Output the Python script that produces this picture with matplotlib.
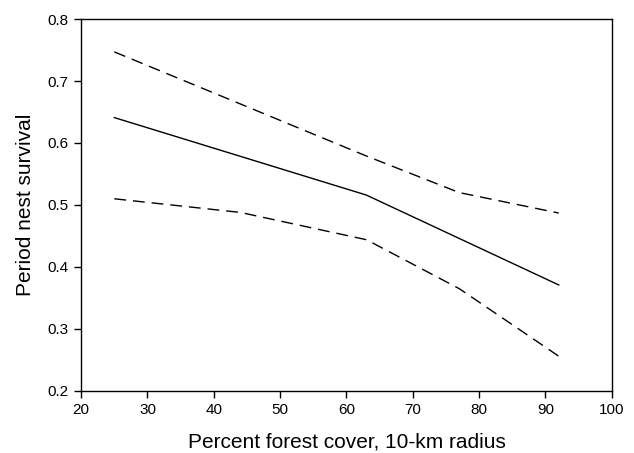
import matplotlib
matplotlib.use("Agg")
import matplotlib.pyplot as plt

plt.rcParams['font.family'] = ['Liberation Sans', 'DejaVu Sans']

# Data
mean_x = [25, 63, 92]
mean_y = [0.641, 0.516, 0.371]

upper_x = [25, 63, 77, 92]
upper_y = [0.747, 0.579, 0.520, 0.487]

lower_x = [25, 44, 63, 77, 92]
lower_y = [0.510, 0.488, 0.444, 0.365, 0.256]

xticks = [20, 30, 40, 50, 60, 70, 80, 90, 100]
yticks = [0.2, 0.3, 0.4, 0.5, 0.6, 0.7, 0.8]

fig = plt.figure(figsize=(6.34, 4.53), dpi=100)
ax = fig.add_axes([0.128, 0.137, 0.837, 0.821])

ax.plot(mean_x, mean_y, color='black', lw=1.0)
ax.plot(upper_x, upper_y, color='black', lw=1.0, dashes=(8.5, 5))
ax.plot(lower_x, lower_y, color='black', lw=1.0, dashes=(8.5, 5))

ax.set_xlim(20, 100)
ax.set_ylim(0.2, 0.8)
ax.set_xticks(xticks)
ax.set_yticks(yticks)
ax.set_yticklabels([f"{v:.1f}" for v in yticks])
ax.tick_params(direction='out', length=5, width=1, labelsize=11, colors='black',
               top=False, right=False, pad=4)
for s in ax.spines.values():
    s.set_linewidth(1.0)
    s.set_color('black')

ax.set_xlabel('Percent forest cover, 10-km radius', fontsize=15, labelpad=11)
ax.set_ylabel('Period nest survival', fontsize=15, labelpad=9)

fig.savefig('out.png', dpi=100)
